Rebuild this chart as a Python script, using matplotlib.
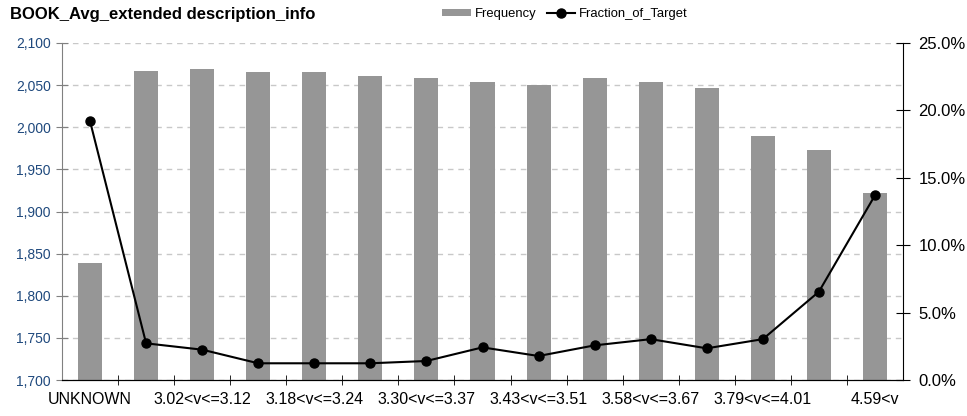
import numpy as np
import matplotlib.pyplot as plt
from matplotlib.ticker import FuncFormatter, MultipleLocator, FixedLocator

plt.rcParams['font.family'] = ['Liberation Sans', 'DejaVu Sans']

# bins of BOOK_Avg_extended description_info
categories = ['UNKNOWN', 'v<=3.02', '3.02<v<=3.12', '3.12<v<=3.18', '3.18<v<=3.24',
              '3.24<v<=3.30', '3.30<v<=3.37', '3.37<v<=3.43', '3.43<v<=3.51',
              '3.51<v<=3.58', '3.58<v<=3.67', '3.67<v<=3.79', '3.79<v<=4.01',
              '4.01<v<=4.59', '4.59<v']
frequency = [1839, 2067, 2069, 2066, 2066, 2061, 2058, 2054, 2050, 2059, 2054, 2046,
             1990, 1973, 1922]
fraction_of_target = [19.2, 2.72, 2.25, 1.24, 1.24, 1.24, 1.41, 2.42, 1.78, 2.57, 3.03,
                      2.35, 3.03, 6.55, 13.7]

x = np.arange(len(categories))

fig = plt.figure(figsize=(9.67, 4.16), dpi=100)
ax = fig.add_axes([62 / 967, 1 - 380 / 416, 841 / 967, 337 / 416])
ax2 = ax.twinx()

ax.bar(x, frequency, width=0.43, color='#969696', zorder=2, label='Frequency')
ax.set_ylim(1700, 2100)
ax.set_xlim(-0.5, len(categories) - 0.5)
ax.yaxis.set_major_locator(MultipleLocator(50))
ax.yaxis.set_major_formatter(FuncFormatter(lambda v, p: f'{v:,.0f}'))
ax.grid(axis='y', color='#c8c8c8', linestyle=(0, (4, 3.5)), linewidth=1, zorder=0)
ax.set_axisbelow(True)

ax2.plot(x, fraction_of_target, color='black', linewidth=1.5, marker='o',
         markersize=6.5, label='Fraction_of_Target', zorder=3)
ax2.set_ylim(0, 25)
ax2.yaxis.set_major_locator(MultipleLocator(5))
ax2.yaxis.set_major_formatter(FuncFormatter(lambda v, p: f'{v:.1f}%'))

# x ticks: labels on every other category, marks on the bin boundaries
ax.set_xticks(x)
ax.set_xticklabels([c if i % 2 == 0 else '' for i, c in enumerate(categories)],
                   fontsize=11.5)
ax.tick_params(axis='x', which='major', length=0, pad=9)
ax.xaxis.set_minor_locator(FixedLocator(np.arange(0.5, len(categories) - 1, 1)))
ax.tick_params(axis='x', which='minor', length=7, direction='inout', color='black')

ax.tick_params(axis='y', length=8, direction='inout', color='#808080',
               labelcolor='#1f497d', labelsize=10, pad=4)
ax2.tick_params(axis='y', length=10, direction='inout', color='black',
                labelsize=12, pad=6)

for a in (ax, ax2):
    a.spines['top'].set_visible(False)
ax.spines['left'].set_color('#808080')
ax2.spines['left'].set_visible(False)
ax.spines['right'].set_visible(False)
ax2.spines['right'].set_color('black')
ax2.spines['bottom'].set_color('black')

fig.text(10 / 967, 1 - 15 / 416, 'BOOK_Avg_extended description_info',
         fontsize=12, fontweight='bold', va='center', ha='left')

h1, l1 = ax.get_legend_handles_labels()
h2, l2 = ax2.get_legend_handles_labels()
fig.legend(h1 + h2, l1 + l2, loc='center', bbox_to_anchor=(565 / 967, 1 - 14 / 416),
           ncol=2, frameon=False, fontsize=9.4, handlelength=2.2, handleheight=0.5,
           handletextpad=0.3, columnspacing=0.8, borderaxespad=0, borderpad=0)

fig.savefig('out.png', dpi=100)
